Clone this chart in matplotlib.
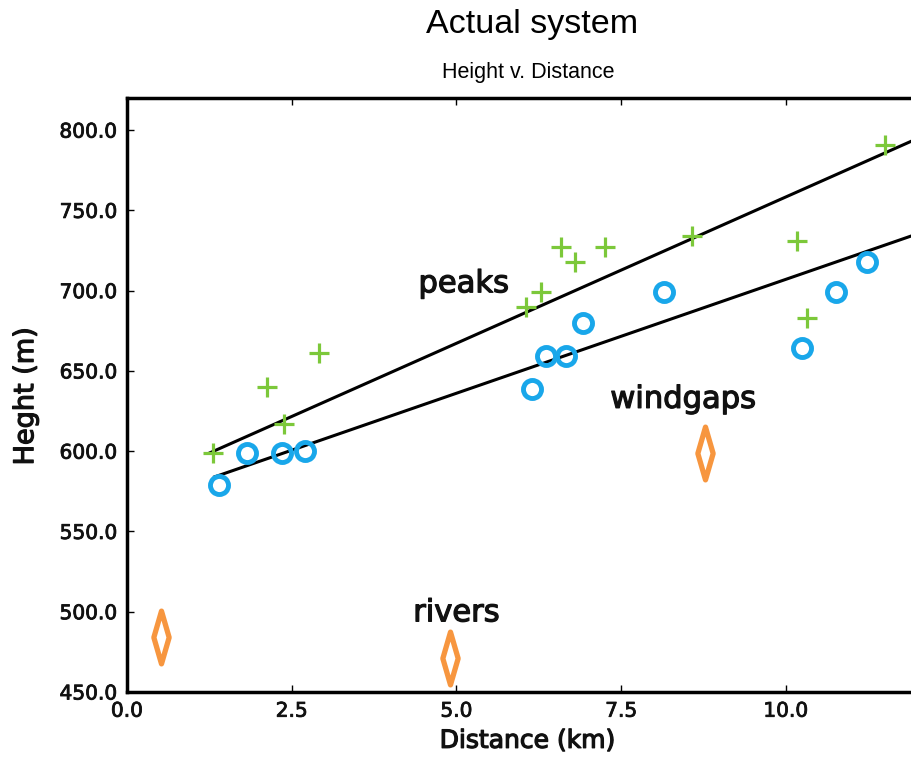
import matplotlib.pyplot as plt
import matplotlib.patheffects as pe
from matplotlib.path import Path
from matplotlib.markers import MarkerStyle

# data
peak_x = [1.30, 2.12, 2.39, 2.92, 6.06, 6.29, 6.58, 6.80, 7.26, 8.58, 10.17, 10.32, 11.50]
peak_y = [599, 640, 617, 661, 690, 699, 727, 718, 727, 734, 731, 683, 791]

gap_x = [1.39, 1.82, 2.35, 2.70, 6.15, 6.36, 6.67, 6.92, 8.15, 10.24, 10.76, 11.23]
gap_y = [579, 599, 599, 600, 639, 659, 659, 680, 699, 664, 699, 718]

river_x = [0.52, 4.91, 8.77]
river_y = [484, 471, 599]

peak_fit_x = [1.26, 11.9]
peak_fit_y = [599, 793]
gap_fit_x = [1.33, 11.9]
gap_fit_y = [584, 734]

label_text = ["peaks", "windgaps", "rivers"]
label_x = [5.11, 8.44, 5.0]
label_y = [699, 627, 494]

x_ticks = [0.0, 2.5, 5.0, 7.5, 10.0]
y_ticks = [450, 500, 550, 600, 650, 700, 750, 800]

plt.rcParams['font.family'] = ['DejaVu Sans']

# a touch heavier than DejaVu regular, like the scanned original
heavy = [pe.withStroke(linewidth=0.9, foreground='#111111')]
heavy_small = [pe.withStroke(linewidth=0.6, foreground='#111111')]

fig = plt.figure(figsize=(9.11, 7.58), dpi=100)
ax = fig.add_axes([0.1394, 0.0871, 0.8606, 0.7836])

# tall thin diamond
diamond = Path([(0, -1), (0.29, 0), (0, 1), (-0.29, 0), (0, -1)],
               [Path.MOVETO, Path.LINETO, Path.LINETO, Path.LINETO, Path.CLOSEPOLY])
diamond_marker = MarkerStyle(diamond, joinstyle='round')

ax.plot(peak_fit_x, peak_fit_y, color='black', lw=2.2)
ax.plot(gap_fit_x, gap_fit_y, color='black', lw=2.2)
ax.plot(peak_x, peak_y, ls='none', marker='+', ms=14, mew=2.3, color='#7cc83a')
ax.plot(gap_x, gap_y, ls='none', marker='o', ms=13, mew=3.5, mfc='none', mec='#19a7ea')
ax.plot(river_x, river_y, ls='none', marker=diamond_marker, ms=38, mew=3.8,
        mfc='none', mec='#f7963f')

for t, x, y in zip(label_text, label_x, label_y):
    ax.text(x, y, t, ha='center', va='baseline', fontsize=22, color='#111111',
            path_effects=heavy)

ax.set_xlim(0, 11.9)
ax.set_ylim(450, 820)
ax.set_xticks(x_ticks, labels=[f"{v:.1f}" for v in x_ticks])
ax.set_yticks(y_ticks, labels=[f"{v:.1f}" for v in y_ticks])
ax.tick_params(direction='in', length=5, width=1, labelsize=14.5, top=True, pad=7,
               labelcolor='#111111')
for lab in ax.get_xticklabels() + ax.get_yticklabels():
    lab.set_path_effects(heavy_small)
ax.spines['right'].set_visible(False)
for s in ['left', 'bottom', 'top']:
    ax.spines[s].set_linewidth(2.5)

ax.set_xlabel("Distance (km)", fontsize=18, color='#111111', path_effects=heavy)
ax.xaxis.set_label_coords(0.511, -0.062)
ax.set_ylabel("Heght (m)", fontsize=19.5, color='#111111', path_effects=heavy)
ax.yaxis.set_label_coords(-0.112, 0.498)

fig.text(532 / 911, 1 - 24 / 758, "Actual system", ha='center', va='center',
         fontsize=24.5, family='Liberation Sans')
fig.text(528 / 911, 1 - 72.5 / 758, "Height v. Distance", ha='center', va='center',
         fontsize=15.5, family='Liberation Sans')

fig.savefig("out.png", dpi=100)
